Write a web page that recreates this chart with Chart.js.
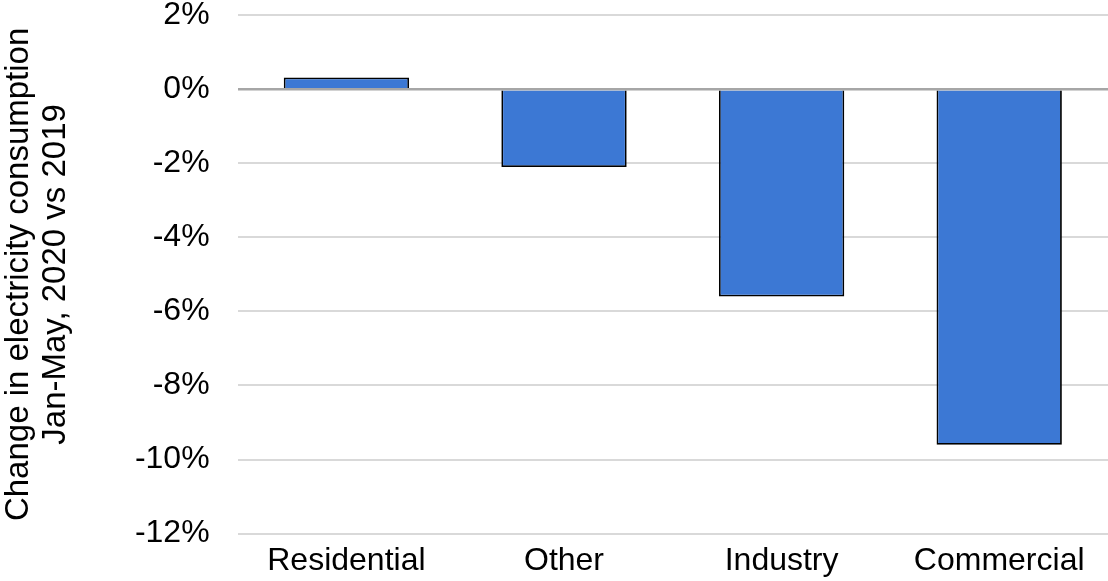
<!DOCTYPE html>
<html>
<head>
<meta charset="utf-8">
<script src="https://cdn.jsdelivr.net/npm/chart.js@4.4.0/dist/chart.umd.min.js"></script>
<style>
  html, body { margin: 0; padding: 0; background: #fff; }
  #wrap { width: 1108px; height: 581px; }
</style>
</head>
<body>
<div id="wrap"><canvas id="grafico"></canvas></div>
<script>
// consumo por setor, jan-mai 2020 vs 2019
var setores = ["Residential", "Other", "Industry", "Commercial"];
var variacao = [0.32, -2.1, -5.6, -9.6];
var tituloY = ["Change in electricity consumption", "Jan-May, 2020 vs 2019"];

Chart.defaults.font.family = "'Liberation Sans', Arial, sans-serif";
Chart.defaults.color = "#000";

new Chart(document.getElementById("grafico"), {
  type: "bar",
  data: {
    labels: setores,
    datasets: [{
      data: variacao,
      backgroundColor: "#3c78d4",
      borderColor: "#000",
      borderWidth: 1.8,
      barPercentage: 0.576,
      categoryPercentage: 1
    }]
  },
  options: {
    responsive: true,
    maintainAspectRatio: false,
    animation: false,
    layout: { padding: { top: 0, right: 0, bottom: 1, left: 0 } },
    plugins: { legend: { display: false }, tooltip: { enabled: false } },
    scales: {
      x: {
        grid: { display: false },
        border: { display: false },
        ticks: { font: { size: 32 }, padding: 0 }
      },
      y: {
        min: -12,
        max: 2,
        ticks: {
          stepSize: 2,
          font: { size: 32, lineHeight: 0.95 },
          padding: 0,
          callback: function (v) { return v + "%"; }
        },
        grid: {
          drawTicks: true,
          tickLength: 28,
          tickColor: "rgba(0,0,0,0)",
          lineWidth: function (ctx) { return ctx.tick && ctx.tick.value === 0 ? 2.5 : 2; },
          color: function (ctx) { return ctx.tick && ctx.tick.value === 0 ? "#a6a6a6" : "#d9d9d9"; }
        },
        border: { display: false },
        title: {
          display: true,
          text: tituloY,
          font: { size: 33, lineHeight: 1.12 },
          padding: { top: 0, bottom: 61 }
        }
      }
    }
  }
});
</script>
</body>
</html>
